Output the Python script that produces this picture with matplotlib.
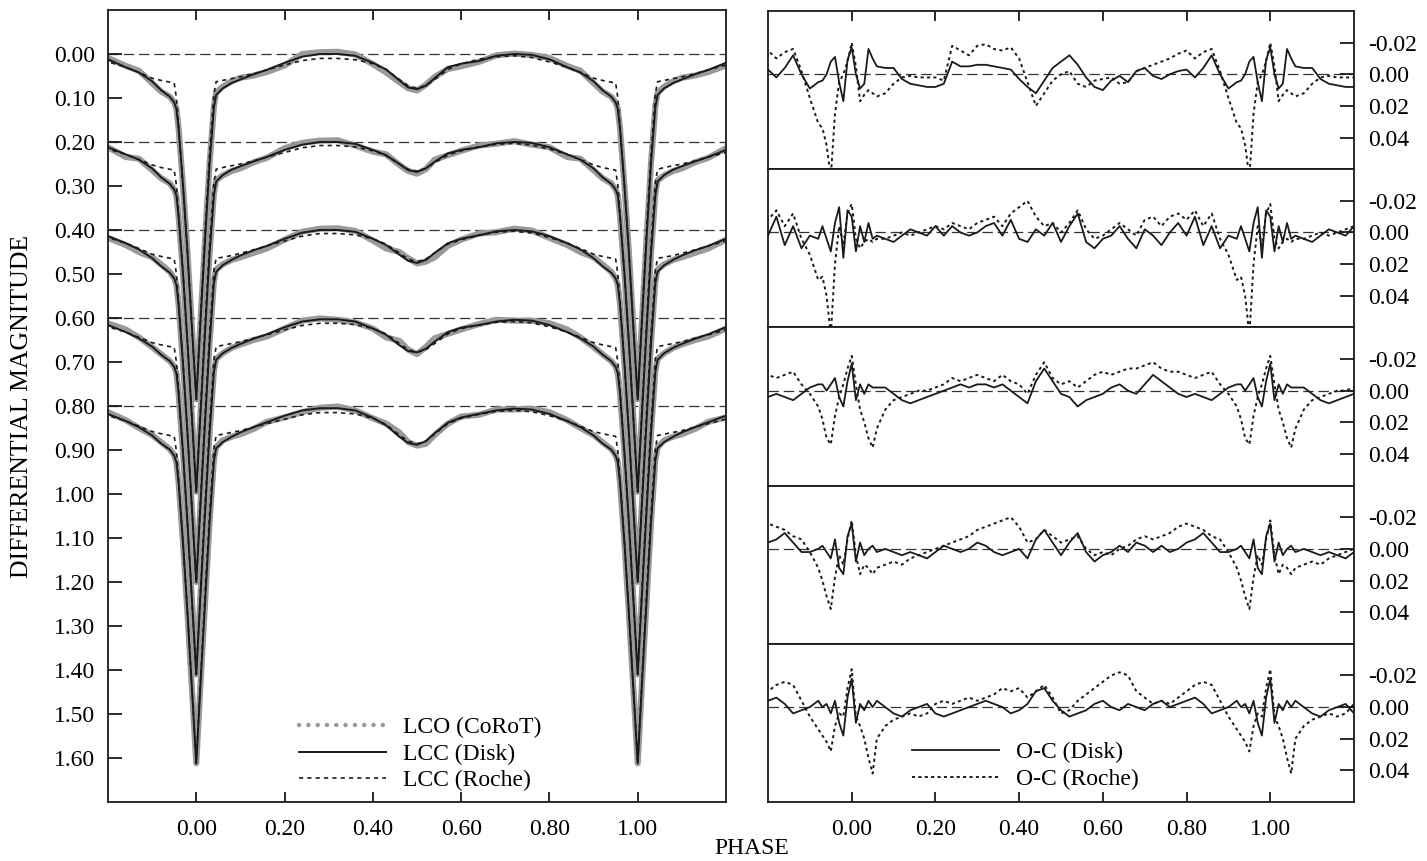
import numpy as np
import matplotlib
matplotlib.use("Agg")
import matplotlib.pyplot as plt
from matplotlib.lines import Line2D

plt.rcParams["font.family"] = ["Liberation Serif", "DejaVu Serif"]
plt.rcParams["axes.unicode_minus"] = False
plt.rcParams["lines.scale_dashes"] = False

FS = 17

# ---------------- light curves (magnitude relative to each curve's maximum) ----------------
lc_phase = [0.000, 0.010, 0.020, 0.030, 0.040, 0.045, 0.060, 0.080, 0.100, 0.130,
            0.160, 0.200, 0.240, 0.280, 0.320, 0.360, 0.400, 0.430, 0.460, 0.480,
            0.500, 0.520, 0.540, 0.570, 0.600, 0.640, 0.680, 0.720, 0.760, 0.800,
            0.840, 0.870, 0.900, 0.920, 0.940, 0.950, 0.955, 0.960, 0.970, 0.980,
            0.990]

lco_1 = [0.785, 0.600, 0.420, 0.250, 0.118, 0.088, 0.074, 0.062, 0.054, 0.049,
         0.041, 0.026, 0.000, -0.004, -0.005, 0.001, 0.023, 0.042, 0.064, 0.078,
         0.083, 0.070, 0.052, 0.034, 0.028, 0.018, 0.003, -0.001, 0.002, 0.009,
         0.027, 0.038, 0.066, 0.085, 0.097, 0.110, 0.125, 0.170, 0.300, 0.450,
         0.620]
disk_1 = [0.785, 0.600, 0.420, 0.250, 0.120, 0.093, 0.078, 0.066, 0.058, 0.046,
          0.036, 0.020, 0.006, 0.000, 0.000, 0.004, 0.020, 0.035, 0.060, 0.076,
          0.080, 0.072, 0.055, 0.030, 0.022, 0.016, 0.004, 0.000, 0.002, 0.012,
          0.030, 0.042, 0.062, 0.082, 0.097, 0.110, 0.125, 0.170, 0.300, 0.450,
          0.620]
roche_1 = [0.785, 0.590, 0.400, 0.230, 0.090, 0.063, 0.060, 0.056, 0.052, 0.045,
           0.036, 0.025, 0.015, 0.010, 0.010, 0.013, 0.022, 0.035, 0.058, 0.072,
           0.078, 0.072, 0.058, 0.035, 0.022, 0.012, 0.006, 0.004, 0.008, 0.018,
           0.030, 0.042, 0.055, 0.060, 0.064, 0.066, 0.100, 0.165, 0.300, 0.450,
           0.620]

lco_2 = [0.795, 0.610, 0.430, 0.255, 0.116, 0.087, 0.076, 0.066, 0.060, 0.046,
         0.036, 0.014, 0.002, -0.003, -0.004, 0.008, 0.022, 0.028, 0.052, 0.066,
         0.072, 0.062, 0.040, 0.030, 0.020, 0.008, 0.004, -0.002, 0.006, 0.012,
         0.034, 0.038, 0.064, 0.082, 0.094, 0.108, 0.122, 0.170, 0.300, 0.455,
         0.625]
disk_2 = [0.795, 0.610, 0.430, 0.255, 0.120, 0.090, 0.075, 0.063, 0.055, 0.044,
          0.034, 0.018, 0.006, 0.000, 0.000, 0.004, 0.018, 0.030, 0.050, 0.064,
          0.068, 0.060, 0.045, 0.026, 0.018, 0.012, 0.003, 0.000, 0.002, 0.012,
          0.028, 0.040, 0.060, 0.080, 0.095, 0.108, 0.122, 0.170, 0.300, 0.455,
          0.625]
roche_2 = [0.795, 0.600, 0.410, 0.235, 0.092, 0.062, 0.058, 0.054, 0.050, 0.043,
           0.034, 0.024, 0.013, 0.008, 0.008, 0.011, 0.020, 0.031, 0.050, 0.062,
           0.066, 0.060, 0.047, 0.030, 0.020, 0.011, 0.005, 0.003, 0.007, 0.016,
           0.028, 0.040, 0.052, 0.058, 0.062, 0.064, 0.098, 0.165, 0.300, 0.455,
           0.625]

lco_3 = [0.800, 0.615, 0.435, 0.258, 0.116, 0.090, 0.078, 0.068, 0.062, 0.052,
         0.042, 0.022, 0.004, -0.003, -0.004, 0.002, 0.024, 0.042, 0.050, 0.064,
         0.076, 0.072, 0.062, 0.036, 0.022, 0.008, 0.005, -0.003, 0.001, 0.018,
         0.034, 0.050, 0.062, 0.078, 0.095, 0.110, 0.125, 0.170, 0.305, 0.460,
         0.630]
disk_3 = [0.800, 0.615, 0.435, 0.258, 0.120, 0.095, 0.080, 0.068, 0.058, 0.046,
          0.036, 0.020, 0.006, 0.000, 0.000, 0.004, 0.020, 0.034, 0.056, 0.070,
          0.075, 0.068, 0.052, 0.030, 0.020, 0.012, 0.003, 0.000, 0.003, 0.014,
          0.030, 0.044, 0.064, 0.082, 0.097, 0.110, 0.125, 0.170, 0.305, 0.460,
          0.630]
roche_3 = [0.800, 0.605, 0.415, 0.240, 0.092, 0.064, 0.062, 0.058, 0.053, 0.045,
           0.036, 0.025, 0.014, 0.008, 0.008, 0.011, 0.020, 0.032, 0.052, 0.066,
           0.072, 0.066, 0.052, 0.032, 0.022, 0.012, 0.005, 0.003, 0.007, 0.017,
           0.030, 0.042, 0.055, 0.060, 0.064, 0.066, 0.100, 0.165, 0.305, 0.460,
           0.630]

lco_4 = [0.810, 0.620, 0.440, 0.262, 0.120, 0.093, 0.080, 0.068, 0.060, 0.050,
         0.042, 0.024, 0.006, 0.001, 0.004, 0.010, 0.024, 0.044, 0.052, 0.072,
         0.082, 0.066, 0.046, 0.036, 0.026, 0.014, 0.004, 0.006, 0.006, 0.012,
         0.026, 0.044, 0.066, 0.082, 0.098, 0.110, 0.126, 0.172, 0.308, 0.465,
         0.638]
disk_4 = [0.810, 0.620, 0.440, 0.262, 0.122, 0.095, 0.080, 0.068, 0.059, 0.047,
          0.037, 0.021, 0.008, 0.003, 0.003, 0.008, 0.024, 0.038, 0.062, 0.075,
          0.078, 0.070, 0.054, 0.032, 0.022, 0.016, 0.008, 0.004, 0.006, 0.016,
          0.032, 0.046, 0.065, 0.083, 0.098, 0.111, 0.126, 0.172, 0.308, 0.465,
          0.638]
roche_4 = [0.810, 0.610, 0.420, 0.244, 0.094, 0.065, 0.062, 0.058, 0.054, 0.046,
           0.038, 0.027, 0.017, 0.012, 0.012, 0.015, 0.024, 0.036, 0.058, 0.072,
           0.078, 0.072, 0.058, 0.036, 0.024, 0.016, 0.010, 0.008, 0.011, 0.020,
           0.032, 0.044, 0.056, 0.061, 0.065, 0.067, 0.100, 0.167, 0.308, 0.465,
           0.638]

lco_5 = [0.812, 0.624, 0.444, 0.266, 0.122, 0.094, 0.078, 0.070, 0.064, 0.052,
         0.036, 0.026, 0.014, 0.004, 0.001, 0.010, 0.028, 0.040, 0.060, 0.082,
         0.090, 0.086, 0.066, 0.040, 0.024, 0.020, 0.008, 0.008, 0.006, 0.014,
         0.032, 0.050, 0.066, 0.082, 0.098, 0.112, 0.128, 0.175, 0.312, 0.470,
         0.640]
disk_5 = [0.812, 0.624, 0.444, 0.266, 0.124, 0.096, 0.082, 0.070, 0.060, 0.048,
          0.037, 0.022, 0.010, 0.005, 0.005, 0.010, 0.027, 0.044, 0.070, 0.084,
          0.088, 0.080, 0.062, 0.038, 0.026, 0.018, 0.010, 0.006, 0.008, 0.018,
          0.034, 0.048, 0.067, 0.085, 0.099, 0.113, 0.128, 0.175, 0.312, 0.470,
          0.640]
roche_5 = [0.812, 0.614, 0.424, 0.248, 0.096, 0.067, 0.064, 0.060, 0.056, 0.048,
           0.040, 0.030, 0.020, 0.015, 0.015, 0.018, 0.028, 0.042, 0.066, 0.080,
           0.086, 0.080, 0.064, 0.040, 0.028, 0.019, 0.012, 0.010, 0.013, 0.022,
           0.034, 0.046, 0.058, 0.063, 0.067, 0.069, 0.102, 0.170, 0.312, 0.470,
           0.640]

lc_offsets = [0.0, 0.2, 0.4, 0.6, 0.8]
lco_curves = [lco_1, lco_2, lco_3, lco_4, lco_5]
disk_curves = [disk_1, disk_2, disk_3, disk_4, disk_5]
roche_curves = [roche_1, roche_2, roche_3, roche_4, roche_5]

# ---------------- O-C residuals ----------------
oc_phase = [0.00, 0.01, 0.02, 0.03, 0.04, 0.05, 0.06,
            0.08, 0.10, 0.12, 0.14, 0.16, 0.18, 0.20, 0.22, 0.24, 0.26, 0.28, 0.30,
            0.32, 0.34, 0.36, 0.38, 0.40, 0.42, 0.44, 0.46, 0.48, 0.50, 0.52, 0.54,
            0.56, 0.58, 0.60, 0.62, 0.64, 0.66, 0.68, 0.70, 0.72, 0.74, 0.76, 0.78,
            0.80, 0.82, 0.84, 0.86, 0.88, 0.90, 0.92,
            0.93, 0.94, 0.95, 0.96, 0.97, 0.98, 0.99]

oc_disk_1 = [-0.017, 0.000, 0.009, 0.006, -0.016, -0.010, -0.005,
             -0.004, -0.004, 0.003, 0.006, 0.007, 0.008, 0.008, 0.006, -0.008, -0.005, -0.005, -0.006,
             -0.006, -0.005, -0.004, -0.003, 0.003, 0.008, 0.012, 0.004, -0.004, -0.008, -0.012, -0.006,
             0.002, 0.008, 0.010, 0.004, 0.001, 0.005, -0.002, -0.004, 0.001, 0.003, 0.000, -0.002,
             -0.003, 0.002, -0.004, -0.012, 0.000, 0.009, 0.005,
             0.004, 0.000, -0.008, -0.011, 0.005, 0.017, -0.009]
oc_roche_1 = [-0.020, -0.005, 0.017, 0.013, 0.010, 0.012, 0.014,
              0.012, 0.006, 0.002, 0.001, 0.002, 0.002, 0.002, 0.004, -0.018, -0.015, -0.012, -0.018,
              -0.019, -0.016, -0.015, -0.017, -0.010, 0.005, 0.020, 0.012, 0.004, 0.000, -0.002, 0.006,
              0.008, 0.004, 0.003, 0.002, 0.006, 0.005, -0.002, -0.004, -0.006, -0.008, -0.010, -0.013,
              -0.015, -0.010, -0.014, -0.016, -0.002, 0.015, 0.031,
              0.034, 0.045, 0.065, 0.025, 0.005, 0.000, -0.008]

oc_disk_2 = [-0.010, 0.012, -0.004, 0.006, -0.006, 0.004, 0.002,
             0.004, 0.006, 0.002, -0.002, 0.000, 0.002, -0.004, 0.002, -0.004, 0.000, 0.002, 0.000,
             -0.004, -0.006, 0.002, -0.008, 0.004, 0.006, -0.002, 0.002, -0.006, 0.006, -0.004, -0.012,
             0.006, 0.010, 0.004, 0.002, -0.004, 0.004, 0.010, -0.002, 0.002, 0.008, 0.000, -0.006,
             0.002, -0.010, 0.008, -0.004, 0.010, 0.002, 0.004,
             -0.004, 0.004, 0.012, -0.006, -0.016, 0.016, -0.014]
oc_roche_2 = [-0.018, 0.004, 0.010, 0.006, 0.004, 0.006, 0.004,
              0.004, 0.002, 0.000, 0.002, 0.000, -0.002, -0.004, -0.002, -0.006, -0.004, -0.002, -0.006,
              -0.008, -0.010, -0.004, -0.012, -0.016, -0.020, -0.010, -0.004, -0.006, 0.000, -0.006, -0.014,
              -0.002, 0.004, 0.002, -0.002, -0.006, -0.002, 0.002, -0.008, -0.010, -0.004, -0.010, -0.012,
              -0.008, -0.014, -0.004, -0.012, 0.004, 0.014, 0.030,
              0.028, 0.040, 0.065, 0.020, -0.004, 0.008, -0.012]

oc_disk_3 = [-0.017, 0.006, -0.004, 0.002, -0.004, -0.002, -0.002,
             -0.002, 0.002, 0.006, 0.008, 0.006, 0.004, 0.002, 0.000, -0.002, -0.004, -0.002, -0.004,
             -0.004, -0.002, -0.004, 0.000, 0.004, 0.008, -0.006, -0.014, -0.006, 0.002, 0.004, 0.010,
             0.006, 0.004, 0.002, -0.002, -0.004, 0.000, 0.002, -0.004, -0.010, -0.006, -0.002, 0.002,
             0.004, 0.002, 0.004, 0.006, 0.002, -0.002, -0.004,
             -0.004, 0.000, -0.004, -0.008, 0.004, 0.010, -0.006]
oc_roche_3 = [-0.022, -0.004, 0.012, 0.020, 0.030, 0.036, 0.024,
              0.012, 0.006, 0.004, 0.002, 0.000, 0.000, -0.002, -0.004, -0.008, -0.006, -0.008, -0.010,
              -0.008, -0.006, -0.010, -0.006, -0.004, 0.002, -0.010, -0.018, -0.008, -0.004, -0.006, -0.002,
              -0.006, -0.010, -0.012, -0.010, -0.012, -0.014, -0.014, -0.016, -0.018, -0.014, -0.012, -0.012,
              -0.010, -0.008, -0.010, -0.012, -0.004, 0.002, 0.010,
              0.018, 0.030, 0.034, 0.016, 0.004, -0.004, -0.014]

oc_disk_4 = [-0.016, 0.008, -0.004, 0.004, 0.000, -0.002, 0.002,
             0.000, 0.002, 0.004, 0.002, 0.004, 0.006, 0.002, -0.002, 0.000, 0.002, 0.000, -0.004,
             -0.002, 0.002, 0.004, 0.002, 0.000, 0.006, -0.006, -0.012, -0.004, 0.004, -0.004, -0.010,
             0.002, 0.008, 0.004, 0.002, -0.002, 0.002, -0.004, -0.002, 0.002, -0.002, 0.002, 0.000,
             -0.004, -0.006, -0.010, -0.004, 0.002, 0.002, 0.000,
             -0.002, 0.002, 0.006, -0.006, 0.012, 0.016, -0.008]
oc_roche_4 = [-0.018, 0.004, 0.016, 0.010, 0.012, 0.016, 0.012,
              0.010, 0.008, 0.010, 0.006, 0.004, 0.002, 0.000, -0.002, -0.004, -0.006, -0.008, -0.012,
              -0.014, -0.016, -0.018, -0.020, -0.014, -0.004, -0.006, -0.012, -0.008, -0.004, -0.006, -0.008,
              0.000, 0.004, 0.002, 0.004, 0.000, -0.002, -0.006, -0.008, -0.006, -0.008, -0.010, -0.014,
              -0.016, -0.014, -0.012, -0.008, -0.006, 0.002, 0.012,
              0.020, 0.030, 0.038, 0.018, 0.004, 0.010, -0.006]

oc_disk_5 = [-0.018, 0.010, -0.002, 0.002, -0.004, 0.000, -0.004,
             0.000, 0.004, 0.006, 0.002, 0.000, -0.002, 0.004, 0.006, 0.004, 0.002, 0.000, -0.002,
             -0.004, -0.002, 0.000, 0.004, 0.002, -0.002, -0.010, -0.012, -0.004, 0.002, 0.006, 0.004,
             0.002, -0.002, -0.004, 0.000, 0.002, -0.002, 0.000, 0.002, -0.002, -0.004, 0.000, -0.002,
             -0.004, -0.006, -0.002, 0.004, 0.002, 0.000, -0.004,
             0.000, -0.002, 0.004, -0.004, 0.010, 0.018, -0.006]
oc_roche_5 = [-0.024, 0.006, 0.012, 0.020, 0.032, 0.042, 0.020,
              0.012, 0.008, 0.006, 0.004, 0.006, 0.004, -0.002, -0.004, -0.002, -0.004, -0.006, -0.004,
              -0.006, -0.008, -0.012, -0.010, -0.012, -0.006, -0.010, -0.014, -0.006, 0.004, 0.002, -0.004,
              -0.008, -0.012, -0.016, -0.020, -0.022, -0.020, -0.010, -0.006, -0.002, -0.004, -0.002, -0.006,
              -0.010, -0.014, -0.016, -0.014, -0.004, 0.006, 0.014,
              0.018, 0.022, 0.028, 0.012, 0.004, 0.006, -0.012]

oc_disk_panels = [oc_disk_1, oc_disk_2, oc_disk_3, oc_disk_4, oc_disk_5]
oc_roche_panels = [oc_roche_1, oc_roche_2, oc_roche_3, oc_roche_4, oc_roche_5]

phase_ticks = [0.0, 0.2, 0.4, 0.6, 0.8, 1.0]
mag_ticks = [round(0.1 * i, 2) for i in range(17)]
oc_ticks = [-0.02, 0.0, 0.02, 0.04]


def folded(phase, values, offset=0.0):
    """Repeat one cycle on the neighbouring cycles so phases below 0 and above 1 are shown."""
    p = np.asarray(phase, dtype=float)
    v = np.asarray(values, dtype=float) + offset
    return np.concatenate([p - 1.0, p, p + 1.0]), np.tile(v, 3)


W, H = 1427, 861
fig = plt.figure(figsize=(W / 100, H / 100), dpi=100)

INK = "#1a1a1a"
GREY = "#9a9a9a"
ROCHE_DASH = (0, (3.0, 3.0))
OC_DOT = (0, (2.2, 2.4))
REF_DASH = (0, (7.5, 3.5))


def style_spines(ax):
    for s in ax.spines.values():
        s.set_linewidth(1.3)
        s.set_color(INK)


# ---------------- left panel: light curves ----------------
axL = fig.add_axes([108 / W, 1 - 802 / H, (726 - 108) / W, (802 - 10) / H])
style_spines(axL)
for off in lc_offsets:
    axL.axhline(off, color="#333333", lw=0.9, linestyle=REF_DASH, zorder=1)

for off, obs, dsk, rch in zip(lc_offsets, lco_curves, disk_curves, roche_curves):
    x, y = folded(lc_phase, obs, off)
    axL.plot(x, y, color=GREY, lw=4.4, solid_capstyle="round", solid_joinstyle="round", zorder=2)
    x, y = folded(lc_phase, dsk, off)
    axL.plot(x, y, color=INK, lw=1.4, zorder=3)
    x, y = folded(lc_phase, rch, off)
    axL.plot(x, y, color=INK, lw=1.2, linestyle=ROCHE_DASH, zorder=4)

axL.set_xlim(-0.2, 1.2)
axL.set_ylim(1.70, -0.10)
axL.set_xticks(phase_ticks)
axL.set_xticklabels([f"{t:.2f}" for t in phase_ticks], fontsize=FS)
axL.set_yticks(mag_ticks)
axL.set_yticklabels([f"{t:.2f}" for t in mag_ticks], fontsize=FS)
axL.tick_params(axis="x", direction="in", length=7.5, width=1.3, color=INK,
                top=True, bottom=True, labeltop=False, pad=12)
axL.tick_params(axis="y", direction="in", length=10, width=1.3, color=INK,
                left=True, right=False, pad=9)

lc_handles = [
    Line2D([], [], color=GREY, lw=3.2, linestyle=(0, (0.1, 6.6)), dash_capstyle="round"),
    Line2D([], [], color=INK, lw=1.4),
    Line2D([], [], color=INK, lw=1.2, linestyle=ROCHE_DASH),
]
axL.legend(lc_handles, ["LCO (CoRoT)", "LCC (Disk)", "LCC (Roche)"],
           loc="upper left", bbox_to_anchor=(299 / W, 1 - 717 / H),
           bbox_transform=fig.transFigure, frameon=False, fontsize=FS,
           handlelength=3.7, handletextpad=0.7, labelspacing=0.2,
           borderpad=0, borderaxespad=0)

# ---------------- right panels: O-C residuals ----------------
x0, x1, top, bottom = 768, 1354, 11, 802
ph_h = (bottom - top) / 5
for k in range(5):
    t = top + k * ph_h
    ax = fig.add_axes([x0 / W, 1 - (t + ph_h) / H, (x1 - x0) / W, ph_h / H])
    style_spines(ax)
    ax.axhline(0.0, color="#333333", lw=0.9, linestyle=REF_DASH, zorder=1)
    x, y = folded(oc_phase, oc_disk_panels[k])
    ax.plot(x, y, color=INK, lw=1.3, zorder=3)
    x, y = folded(oc_phase, oc_roche_panels[k])
    ax.plot(x, y, color=INK, lw=1.4, linestyle=OC_DOT, zorder=2)
    ax.set_xlim(-0.2, 1.2)
    ax.set_ylim(0.06, -0.04)
    ax.set_yticks(oc_ticks)
    ax.set_yticklabels([f"{t:.2f}" for t in oc_ticks], fontsize=FS)
    ax.yaxis.tick_right()
    ax.tick_params(axis="y", direction="in", length=10, width=1.3, color=INK,
                   left=False, right=True, labelleft=False, labelright=True, pad=10)
    ax.set_xticks(phase_ticks)
    ax.set_xticklabels([f"{t:.2f}" for t in phase_ticks], fontsize=FS)
    ax.tick_params(axis="x", direction="in", length=7.5, width=1.3, color=INK,
                   top=(k == 0), bottom=(k == 4), labeltop=False,
                   labelbottom=(k == 4), pad=12)
    if k == 4:
        oc_handles = [Line2D([], [], color=INK, lw=1.3),
                      Line2D([], [], color=INK, lw=1.4, linestyle=OC_DOT)]
        ax.legend(oc_handles, ["O-C (Disk)", "O-C (Roche)"],
                  loc="upper left", bbox_to_anchor=(912 / W, 1 - 742 / H),
                  bbox_transform=fig.transFigure, frameon=False, fontsize=FS,
                  handlelength=3.7, handletextpad=0.7, labelspacing=0.2,
                  borderpad=0, borderaxespad=0)

fig.text(752 / W, 1 - 848 / H, "PHASE", ha="center", va="center", fontsize=FS)
fig.text(22 / W, 1 - 406 / H, "DIFFERENTIAL MAGNITUDE", rotation=90,
         ha="center", va="center", fontsize=18.5)

fig.savefig("out.png", dpi=100)
